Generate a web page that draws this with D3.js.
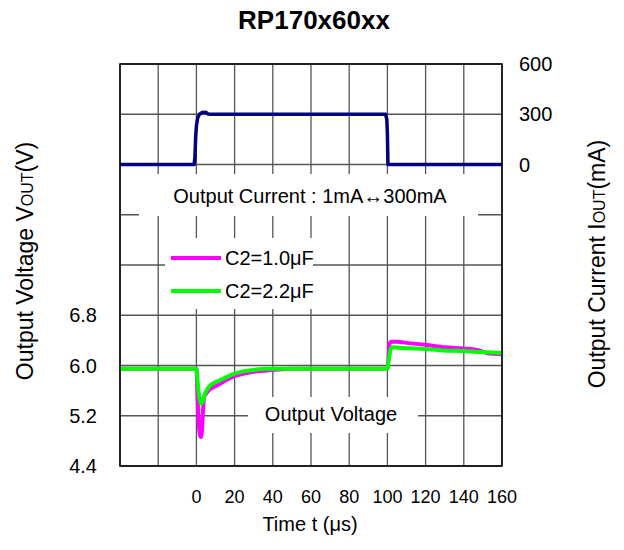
<!DOCTYPE html>
<html><head><meta charset="utf-8">
<script src="https://cdn.jsdelivr.net/npm/d3@7"></script>
<style>
body{margin:0;background:#fff;}
svg text{font-family:"Liberation Sans",Arial,sans-serif;fill:#000;}
</style></head>
<body>
<svg id="c" width="624" height="550"></svg>
<script>
// ---- data ----
const title = "RP170x60xx";
const timeTicks = [0, 20, 40, 60, 80, 100, 120, 140, 160];
const voltTicks = [4.4, 5.2, 6.0, 6.8];
const currTicks = [0, 300, 600];
const seriesNames = ["C2=1.0\u03bcF", "C2=2.2\u03bcF"];
const seriesColors = ["#ff00ff", "#00ff00"];
// output current (t in us, mA)
const currentData = [[-40,0],[-1.2,0],[-0.8,40],[-0.4,160],[0,230],[0.7,280],[1.6,300],[3,310],[5,312],[6,302],[8,300],
  [99,300],[99.7,270],[100,180],[100.3,0],[101,0],[160,0]];
// output voltage, C2=1.0uF
const vout10 = [[-40,5.95],[0,5.95],[0.5,5.6],[1,5.2],[1.8,4.9],[2.4,4.86],[3,5.0],[3.5,5.3],[4,5.5],[5,5.55],[7,5.62],
  [10,5.67],[13,5.72],[17,5.79],[20,5.83],[25,5.87],[30,5.9],[37,5.92],[45,5.94],[50,5.95],[100,5.95],[100.5,6.1],
  [101.2,6.35],[102,6.38],[105,6.38],[110,6.36],[120,6.33],[130,6.29],[140,6.27],[148,6.24],[152,6.2],[160,6.18]];
// output voltage, C2=2.2uF
const vout22 = [[-40,5.95],[0,5.95],[0.6,5.75],[1.5,5.5],[2.4,5.39],[3.2,5.42],[4.5,5.55],[6.5,5.66],[9,5.72],[12,5.76],
  [16,5.82],[20,5.87],[25,5.91],[30,5.93],[37,5.95],[100,5.95],[100.8,6.1],[101.8,6.27],[103,6.29],[108,6.28],[115,6.27],
  [125,6.25],[129,6.24],[140,6.23],[146,6.22],[152,6.21],[160,6.2]];

// ---- layout ----
const L = 120, R = 502, T = 64, B = 466;
const svg = d3.select("#c");
const x = d3.scaleLinear().domain([-40, 160]).range([L, R]);
const yV = d3.scaleLinear().domain([4.4, 10.8]).range([B, T]);
const yI = d3.scaleLinear().domain([-1800, 600]).range([B, T]);

// grid
const g = svg.append("g");
g.selectAll("line.v").data(d3.range(-40, 161, 20)).join("line")
  .attr("x1", d => x(d)).attr("x2", d => x(d)).attr("y1", T).attr("y2", B)
  .attr("stroke", "#555").attr("stroke-width", 1.3);
g.selectAll("line.h").data(d3.range(0, 9).map(k => 4.4 + k * 0.8)).join("line")
  .attr("x1", L).attr("x2", R).attr("y1", d => yV(d)).attr("y2", d => yV(d))
  .attr("stroke", "#555").attr("stroke-width", 1.3);

// white label boxes
svg.append("rect").attr("x", 139).attr("y", 174).attr("width", 339).attr("height", 42).attr("fill", "#fff");
svg.append("rect").attr("x", 165).attr("y", 238).attr("width", 148).attr("height", 71).attr("fill", "#fff");
svg.append("rect").attr("x", 248).attr("y", 397).attr("width", 170).attr("height", 36).attr("fill", "#fff");

// traces
const lineV = d3.line().x(d => x(d[0])).y(d => yV(d[1])).curve(d3.curveMonotoneX);
const lineI = d3.line().x(d => x(d[0])).y(d => yI(d[1]));
svg.append("path").datum(currentData).attr("d", lineI).attr("fill", "none")
  .attr("stroke", "#000080").attr("stroke-width", 3.5).attr("stroke-linejoin", "round");
[vout10, vout22].forEach((s, i) => {
  svg.append("path").datum(s).attr("d", lineV).attr("fill", "none")
    .attr("stroke", seriesColors[i]).attr("stroke-width", 4).attr("stroke-linejoin", "round");
});

// frame
svg.append("rect").attr("x", L).attr("y", T).attr("width", R - L).attr("height", B - T)
  .attr("fill", "none").attr("stroke", "#000").attr("stroke-width", 1.5);

// legend
const leg = svg.append("g");
seriesNames.forEach((n, i) => {
  const yy = 258 + i * 33;
  leg.append("line").attr("x1", 171).attr("x2", 221).attr("y1", yy).attr("y2", yy)
    .attr("stroke", seriesColors[i]).attr("stroke-width", 4);
  leg.append("text").attr("x", 225).attr("y", yy).attr("dy", "0.35em").attr("font-size", 20).text(n);
});

// annotations
svg.append("text").attr("x", 310).attr("y", 196).attr("dy", "0.35em").attr("text-anchor", "middle")
  .attr("font-size", 20).text("Output Current : 1mA\u2194300mA");
svg.append("text").attr("x", 331).attr("y", 414).attr("dy", "0.35em").attr("text-anchor", "middle")
  .attr("font-size", 20).text("Output Voltage");

// axes tick labels
svg.append("g").selectAll("text").data(timeTicks).join("text")
  .attr("x", d => x(d)).attr("y", 503).attr("text-anchor", "middle").attr("font-size", 18).text(d => d);
svg.append("g").selectAll("text").data(voltTicks).join("text")
  .attr("x", 97).attr("y", d => yV(d)).attr("dy", "0.36em").attr("text-anchor", "end").attr("font-size", 20)
  .text(d => d3.format(".1f")(d));
svg.append("g").selectAll("text").data(currTicks).join("text")
  .attr("x", 519).attr("y", d => yI(d)).attr("dy", "0.36em").attr("text-anchor", "start").attr("font-size", 20)
  .text(d => d);

// title
svg.append("text").attr("x", 314).attr("y", 29).attr("text-anchor", "middle").attr("font-size", 26)
  .attr("font-weight", "bold").text(title);

// axis titles
svg.append("text").attr("x", 310).attr("y", 531).attr("text-anchor", "middle").attr("font-size", 20)
  .text("Time t (\u03bcs)");
const yl = svg.append("text").attr("transform", "translate(33,261) rotate(-90)").attr("text-anchor", "middle")
  .attr("font-size", 23);
yl.append("tspan").text("Output Voltage V");
yl.append("tspan").attr("font-size", 16).text("OUT");
yl.append("tspan").text("(V)");
const yr = svg.append("text").attr("transform", "translate(605,264) rotate(-90)").attr("text-anchor", "middle")
  .attr("font-size", 23);
yr.append("tspan").text("Output Current I");
yr.append("tspan").attr("font-size", 16).text("OUT");
yr.append("tspan").text("(mA)");
</script>
</body></html>
